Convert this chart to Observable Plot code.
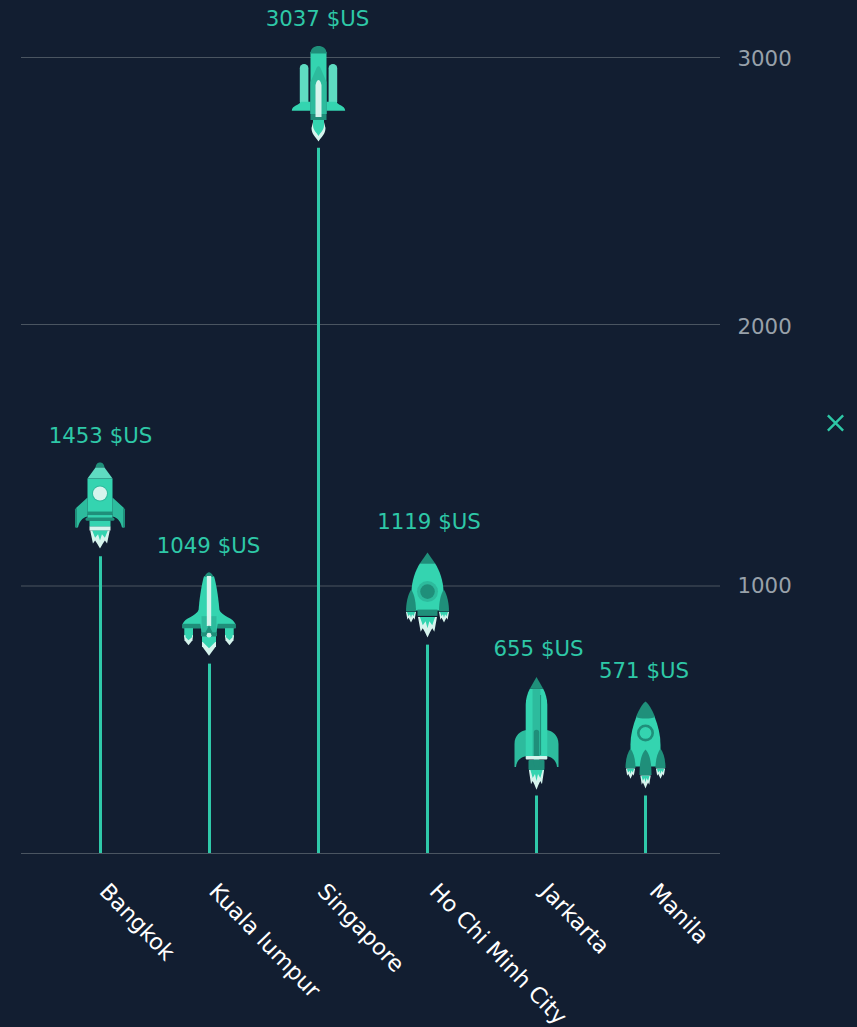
<!DOCTYPE html>
<html>
<head>
<meta charset="utf-8">
<script src="https://cdn.jsdelivr.net/npm/d3@7"></script>
<script src="https://cdn.jsdelivr.net/npm/@observablehq/plot@0.6"></script>
<style>
html,body{margin:0;padding:0;background:#121e31;overflow:hidden}
svg{display:block}
</style>
</head>
<body>
<div id="chart"></div>
<script>
const cities = ["Bangkok", "Kuala lumpur", "Singapore", "Ho Chi Minh City", "Jarkarta", "Manila"];
const prices = [1453, 1049, 3037, 1119, 655, 571];
const stemTops = [1112, 708, 2660, 779, 215, 215];
const yTicks = [1000, 2000, 3000];

const TEAL = "#34d4b0", MID = "#2dbb9d", DARK = "#1f8f7a", LIGHT = "#5fdcc2", PALE = "#d6f4ed", BG = "#121e31";

const mirror = s => s + `<g transform="scale(-1,1)">${s}</g>`;
const flame = (cx, top, w, bottom, inner = true) => {
  const h = bottom - top;
  const out = `<path fill="${PALE}" d="M${cx - w} ${top}L${cx - w * .72} ${top + h * .72}L${cx - w * .5} ${top + h * .55}L${cx - w * .25} ${top + h * .76}L${cx} ${bottom}L${cx + w * .25} ${top + h * .76}L${cx + w * .5} ${top + h * .55}L${cx + w * .72} ${top + h * .72}L${cx + w} ${top}Z"/>`;
  const inn = inner ? `<path fill="${TEAL}" d="M${cx - w * .8} ${top}L${cx - w * .5} ${top + h * .4}L${cx - w * .2} ${top + h * .2}L${cx} ${top + h * .55}L${cx + w * .2} ${top + h * .2}L${cx + w * .5} ${top + h * .4}L${cx + w * .8} ${top}Z"/>` : "";
  return out + inn;
};

const artBangkok = `<g transform="translate(-0.5,-5)">` +
  mirror(`<path fill="${MID}" d="M-12.5 35L-24 45.5L-24 65L-22 65C-21 60 -18 55 -12.5 54Z"/><path fill="${DARK}" d="M-24 45.5L-25 47L-25 65L-23 65L-23 46Z"/>`) +
  `<path fill="${DARK}" d="M-4.5 5C-4 1 -2 0 0 0C2 0 4 1 4.5 5Z"/>
   <path fill="${LIGHT}" d="M-4.5 5L4.5 5L12.5 16L-12.5 16Z"/>
   <rect x="-12.5" y="16" width="25" height="36" fill="${TEAL}"/>
   <circle cx="0" cy="31" r="8" fill="${MID}"/><circle cx="0" cy="31" r="7" fill="${PALE}"/>
   <rect x="-12.5" y="49" width="25" height="3.5" fill="${DARK}"/>
   <rect x="-12.5" y="52.5" width="25" height="3" fill="${TEAL}"/>
   <rect x="-14.5" y="55" width="29" height="3.2" rx="1.5" fill="${DARK}"/>
   <rect x="-10.5" y="58.2" width="21" height="6" fill="${TEAL}"/>
   <rect x="-10.5" y="64" width="21" height="4" fill="${PALE}"/>` +
  flame(0, 68, 9.8, 86) + `</g>`;

const artKuala = `<g transform="translate(-0.5,-1)">` +
  mirror(`<rect x="-24.7" y="55" width="8.7" height="10" fill="${TEAL}"/>
    <path fill="${PALE}" d="M-25 63L-16 63L-16.5 68L-20.5 73L-24.5 68Z"/>
    <path fill="${TEAL}" d="M-23.5 60L-17 60L-17 65L-20.5 68L-23.5 65Z"/>
    <path fill="${TEAL}" d="M-7 33L-9.8 37C-14 45 -24 45 -26.5 52L-26.5 56L-7 56Z"/>
    <rect x="-26.5" y="51.6" width="19" height="4.4" fill="${DARK}"/>`) +
  `<path fill="${TEAL}" d="M-5 4C-7 10 -10 28 -10.5 40L-7 62L7 62L10.5 40C10 28 7 10 5 4Z"/>
   <path fill="${DARK}" d="M-4.5 4.5C-3 1 -1 0 0 0C1 0 3 1 4.5 4.5Z"/>
   <rect x="-7.5" y="44" width="15" height="16" fill="${MID}"/>
   <rect x="-2.2" y="3.8" width="4.4" height="50" fill="${PALE}"/>
   <path fill="${DARK}" d="M0 53L3.5 60L8 60L8 64L-8 64L-8 60L-3.5 60Z"/>` +
  `<path fill="${PALE}" d="M-7 68L-7 74L0 83.5L7 74L7 68L0 64Z"/>
   <path fill="${TEAL}" d="M-7 64L-7 69L0 76L7 69L7 64Z"/>
   <circle cx="0" cy="63" r="2.4" fill="${PALE}"/></g>`;

const artSingapore = `<g transform="translate(0,-1.6)">` +
  mirror(`<rect x="-18.7" y="18" width="8.6" height="42" rx="4.2" fill="${LIGHT}"/>
    <path fill="${TEAL}" d="M-8 55.7L-17.5 55.7C-19 59 -26.7 59.5 -26.7 64.7L-8 64.7Z"/>`) +
  `<rect x="-8" y="6" width="16" height="62" fill="${TEAL}"/>
   <path fill="${DARK}" d="M-8 7.5C-8 2 -4 0 0 0C4 0 8 2 8 7.5Z"/>
   <path fill="${MID}" d="M-8 36L-2 22C-1 19.5 1 19.5 2 22L8 36L8 68L-8 68Z"/>
   <path fill="${PALE}" d="M-3 39C-2 35 -1 34 0 34C1 34 2 35 3 39L3 71.3L-3 71.3Z"/>
   <rect x="-8" y="68" width="16" height="6" fill="${DARK}"/>
   <rect x="-3" y="68" width="6" height="3" fill="${PALE}"/>
   <path fill="${PALE}" d="M-7 82L-5.5 76L5.5 76L7 82C7 88 3 91 0 95.5C-3 91 -7 88 -7 82Z"/>
   <path fill="${TEAL}" d="M-5.5 74L5.5 74L5.5 80C5 85 2 86 0 90C-2 86 -5 85 -5.5 80Z"/></g>`;

const artHCM = `<g transform="translate(0,-2.3)">` +
  `<path fill="${TEAL}" d="M-7.5 10.7C-12 18 -16 28 -16 40L-16 58L16 58L16 40C16 28 12 18 7.5 10.7Z"/>
   <path fill="${DARK}" d="M0 0L7.5 10.7L-7.5 10.7Z"/>
   <circle cx="0" cy="39" r="10.5" fill="${MID}"/><circle cx="0" cy="39" r="7.3" fill="${DARK}"/>
   <rect x="-10" y="57" width="20" height="6.3" fill="${DARK}"/>` +
  mirror(`<path fill="${DARK}" d="M-16.3 37C-19.5 42 -21.5 50 -21.5 59L-11.5 59C-11.5 50 -13 42 -16.3 37Z"/>` + flame(-16.5, 59.5, 5, 70)) +
  flame(0, 64.5, 9.5, 84.8) + `</g>`;

const artJakarta = `<g transform="translate(0,-1.3)">` +
  mirror(`<path fill="${MID}" d="M-10 53C-16 54 -22 58 -22 67L-22 90L-20.5 90C-20 84 -16 80 -10 79Z"/>`) +
  `<path fill="${TEAL}" d="M-6.7 11.7C-9 16 -10.8 22 -10.8 28L-10.8 80L10.8 80L10.8 28C10.8 22 9 16 6.7 11.7Z"/>
   <path fill="${MID}" d="M-4 11.7L4 11.7L4 80L-4 80Z"/>
   <path fill="${DARK}" d="M0 0L6.7 11.7L-6.7 11.7Z"/>
   <rect x="3.6" y="18" width="1" height="60" fill="${DARK}"/>
   <rect x="-8" y="83" width="16" height="10" rx="1" fill="${DARK}"/>
   <rect x="-2.7" y="52.7" width="5.4" height="37" rx="2.7" fill="${DARK}"/>
   <rect x="-10.8" y="79" width="21.6" height="3.4" rx="1" fill="${PALE}"/>` +
  flame(0, 93, 7.6, 112.8) + `</g>`;

const artManila = `<g transform="translate(0,0.7)">` +
  `<path fill="${TEAL}" d="M-9 15C-12.5 24 -15 33 -15 43L-15 65L15 65L15 43C15 33 12.5 24 9 15Z"/>
   <path fill="${DARK}" d="M0 0C3 2 7 9 9.5 15.5C5 17.5 -5 17.5 -9.5 15.5C-7 9 -3 2 0 0Z"/>
   <circle cx="0" cy="31.5" r="7.2" fill="${TEAL}" stroke="${DARK}" stroke-width="2.6"/>` +
  mirror(`<path fill="${DARK}" d="M-15 47C-18 51 -20 58 -20 66.5L-10 66.5C-10 58 -12 51 -15 47Z"/>` + flame(-15, 67, 4.6, 77.3)) +
  `<path fill="${DARK}" d="M0 48C-4 52 -6 60 -6 73.5L6 73.5C6 60 4 52 0 48Z"/>` +
  flame(0, 74, 5.2, 87) + `</g>`;

const rocketArt = [artBangkok, artKuala, artSingapore, artHCM, artJakarta, artManila];
const rocketSrc = art => "data:image/svg+xml," + encodeURIComponent(
  `<svg xmlns="http://www.w3.org/2000/svg" width="80" height="130" viewBox="-40 -10 80 130">${art}</svg>`);

const table = cities.map((city, i) => ({city, price: prices[i], stem: stemTops[i], src: rocketSrc(rocketArt[i])}));

// small per-label nudges measured on the reference
const labelDx = [0, -1, -1, 1.5, 2, -1.5];
const labelDy = [-31, -27, -28, -33, -29, -30];
const tickDy = [0, 3, 2];
const cityDx = [3, 3.5, 3, 6, 8, 8];
const cityDy = [3, 3, 3, 3, 3, 3];

const plot = Plot.plot({
  width: 857,
  height: 1027,
  marginLeft: 21,
  marginRight: 137,
  marginTop: 0,
  marginBottom: 174,
  style: {background: BG, fontFamily: "'DejaVu Sans', sans-serif"},
  x: {type: "point", domain: cities, range: [99, 646], padding: 0},
  y: {type: "linear", domain: [0, 1000, 2000, 3000], range: [853, 585.5, 324, 57]},
  marks: [
    Plot.ruleY([0, ...yTicks], {stroke: "#4a5561", strokeWidth: 1}),
    ...yTicks.map((t, i) => Plot.axisY({anchor: "right", ticks: [t], tickSize: 0, tickPadding: 17, fontSize: 21.3, color: "#98a1aa", label: null, tickFormat: d => String(d), dy: tickDy[i]})),
    ...cities.map((c, i) => Plot.axisX({anchor: "bottom", ticks: [c], tickRotate: 46, tickSize: 0, tickPadding: 31, fontSize: 22.4, color: "#ffffff", label: null, dx: cityDx[i], dy: cityDy[i]})),
    Plot.ruleX(table, {x: "city", y1: 0, y2: "stem", stroke: "#2fc9a9", strokeWidth: 3}),
    Plot.image(table, {x: "city", y: "price", src: "src", width: 80, height: 130, dy: 55}),
    ...table.map((d, i) => Plot.text([d], {
      x: "city", y: "price", text: t => `${t.price} $US`, dx: labelDx[i], dy: labelDy[i],
      fontSize: 21.3, fill: "#2ec8a7", textAnchor: "middle"
    })),
    Plot.dot([1623], {y: d => d, frameAnchor: "right", dx: 115, symbol: "times", r: 7, stroke: "#2ec8a7", strokeWidth: 2.4})
  ]
});
document.getElementById("chart").append(plot);
</script>
</body>
</html>
